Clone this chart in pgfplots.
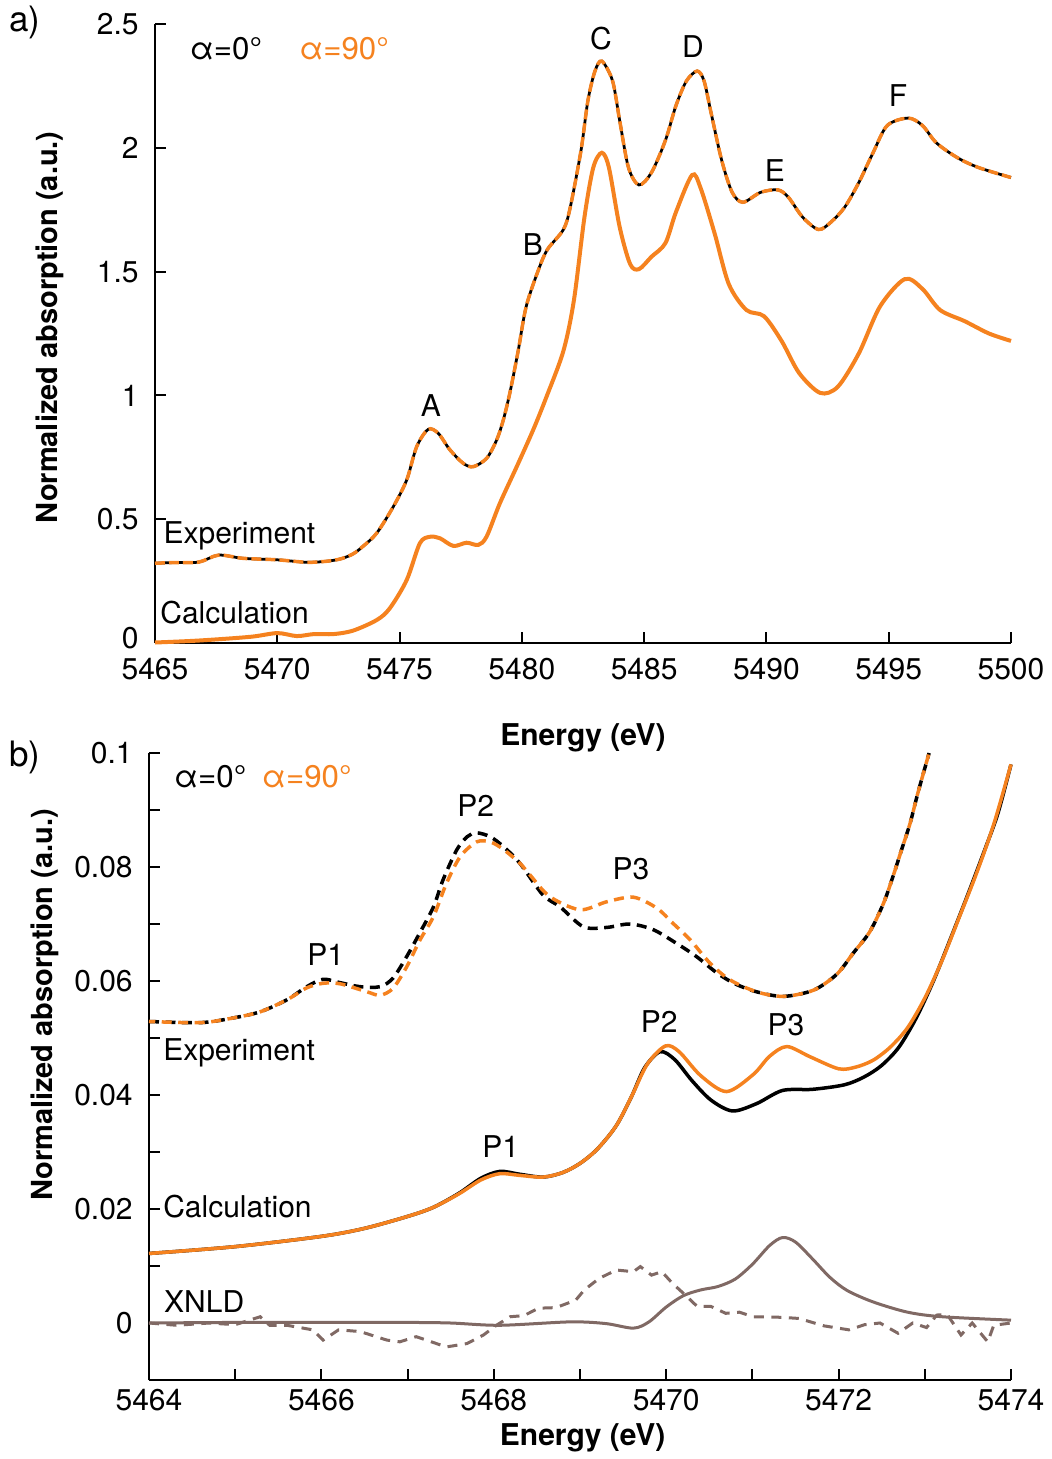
\documentclass[border=0pt]{standalone}
\usepackage{pgfplots}
\pgfplotsset{compat=1.18}
\usepackage{fontspec}
\setmainfont{TeX Gyre Heros}
\definecolor{org}{RGB}{245,130,31}
\definecolor{xnld}{RGB}{128,105,100}

\pgfplotsset{
  panel/.style={
    scale only axis, clip=false,
    axis x line=bottom, axis y line=left,
    axis line style={-, line width=0.8pt},
    tick style={black, line width=0.8pt},
    major tick length=4.5pt, tick align=inside,
    tick label style={font=\fontsize{12}{14}\selectfont},
    yticklabel style={xshift=-3pt},
    every axis plot/.append style={no markers},
  },
}

\begin{document}
\begin{tikzpicture}[font=\fontsize{12}{14}\selectfont]
\useasboundingbox (-62pt,-326.4pt) rectangle (358.4pt,257.2pt);

% a) K-edge overview
\begin{axis}[panel, at={(0,0)}, anchor=south west,
  width=342.4pt, height=247.6pt,
  xmin=5465, xmax=5500, ymin=0, ymax=2.5,
  xticklabel style={yshift=-2.5pt},
  xtick={5465,5470,5475,5480,5485,5490,5495,5500},
  xticklabels={5465,5470,5475,5480,5485,5490,5495,5500},
  ytick={0,0.5,1,1.5,2,2.5},
  yticklabels={\raisebox{4pt}{0},0.5,1,1.5,2,2.5}]

% experiment, alpha=0 (black) under alpha=90 (orange dashed)
\addplot[black, line width=1.1pt, smooth] coordinates {
(5465,0.322)(5465.8,0.325)(5466.8,0.327)(5467.6,0.355)(5468.6,0.342)(5470,0.336)
(5471.2,0.326)(5472,0.33)(5472.6,0.34)(5473.1,0.36)(5473.5,0.39)(5474.06,0.443)
(5474.74,0.55)(5475.29,0.658)(5475.7,0.793)(5476.17,0.863)(5476.58,0.847)(5477.06,0.78)
(5477.6,0.726)(5478.01,0.712)(5478.56,0.746)(5478.97,0.82)(5479.24,0.90)(5479.51,1.01)
(5479.85,1.18)(5480.18,1.36)(5480.69,1.51)(5481.05,1.59)(5481.7,1.67)(5481.98,1.76)
(5482.42,1.99)(5482.70,2.19)(5482.99,2.31)(5483.27,2.35)(5483.71,2.27)(5484.0,2.11)
(5484.36,1.92)(5484.79,1.85)(5485.3,1.90)(5485.87,2.03)(5486.3,2.17)(5486.73,2.27)
(5487.17,2.31)(5487.45,2.27)(5487.74,2.14)(5488.17,1.95)(5488.6,1.82)(5489.04,1.78)
(5489.76,1.82)(5490.47,1.83)(5490.9,1.80)(5491.48,1.72)(5492.13,1.67)(5492.64,1.70)
(5493.2,1.76)(5493.78,1.86)(5494.36,1.98)(5494.94,2.09)(5495.8,2.12)(5496.38,2.09)
(5496.95,2.02)(5497.81,1.96)(5498.68,1.92)(5500,1.88)};
\addplot[org, line width=1.4pt, smooth, dash pattern=on 4pt off 1.6pt] coordinates {
(5465,0.322)(5465.8,0.325)(5466.8,0.327)(5467.6,0.355)(5468.6,0.342)(5470,0.336)
(5471.2,0.326)(5472,0.33)(5472.6,0.34)(5473.1,0.36)(5473.5,0.39)(5474.06,0.443)
(5474.74,0.55)(5475.29,0.658)(5475.7,0.793)(5476.17,0.863)(5476.58,0.847)(5477.06,0.78)
(5477.6,0.726)(5478.01,0.712)(5478.56,0.746)(5478.97,0.82)(5479.24,0.90)(5479.51,1.01)
(5479.85,1.18)(5480.18,1.36)(5480.69,1.51)(5481.05,1.59)(5481.7,1.67)(5481.98,1.76)
(5482.42,1.99)(5482.70,2.19)(5482.99,2.31)(5483.27,2.35)(5483.71,2.27)(5484.0,2.11)
(5484.36,1.92)(5484.79,1.85)(5485.3,1.90)(5485.87,2.03)(5486.3,2.17)(5486.73,2.27)
(5487.17,2.31)(5487.45,2.27)(5487.74,2.14)(5488.17,1.95)(5488.6,1.82)(5489.04,1.78)
(5489.76,1.82)(5490.47,1.83)(5490.9,1.80)(5491.48,1.72)(5492.13,1.67)(5492.64,1.70)
(5493.2,1.76)(5493.78,1.86)(5494.36,1.98)(5494.94,2.09)(5495.8,2.12)(5496.38,2.09)
(5496.95,2.02)(5497.81,1.96)(5498.68,1.92)(5500,1.88)};

% calculation (both polarisations coincide)
\addplot[org, line width=1.6pt, smooth] coordinates {
(5465,0.002)(5466.8,0.01)(5468.9,0.025)(5470,0.04)(5470.8,0.028)(5471.5,0.036)
(5472.3,0.036)(5473.1,0.05)(5474.07,0.093)(5474.6,0.14)(5475.29,0.254)(5475.83,0.403)
(5476.24,0.429)(5476.65,0.423)(5477.2,0.392)(5477.74,0.405)(5478.22,0.396)(5478.56,0.43)
(5479.1,0.564)(5479.79,0.712)(5480.46,0.86)(5481.01,0.995)(5481.7,1.18)(5482.13,1.385)
(5482.56,1.72)(5482.92,1.92)(5483.27,1.98)(5483.56,1.92)(5484.0,1.68)(5484.43,1.53)
(5484.79,1.51)(5485.3,1.56)(5485.87,1.615)(5486.3,1.74)(5486.96,1.89)(5487.3,1.84)
(5487.88,1.655)(5488.46,1.45)(5489.18,1.345)(5489.9,1.32)(5490.62,1.22)(5491.34,1.09)
(5492.2,1.01)(5492.92,1.035)(5493.78,1.17)(5494.65,1.36)(5495.66,1.47)(5496.38,1.43)
(5497.1,1.345)(5498.1,1.30)(5499.1,1.25)(5500,1.22)};

\node[anchor=west, inner sep=0pt] at (axis cs:5465.33,0.432) {Experiment};
\node[anchor=west, inner sep=0pt] at (axis cs:5465.2,0.121) {Calculation};
\node at (axis cs:5476.28,0.957) {A};
\node at (axis cs:5480.45,1.61) {B};
\node at (axis cs:5483.23,2.44) {C};
\node at (axis cs:5487.0,2.41) {D};
\node at (axis cs:5490.35,1.91) {E};
\node at (axis cs:5495.38,2.21) {F};
\node[font=\fontsize{12.5}{14}\selectfont] at (axis cs:5467.9,2.40) {α=0°};
\node[org, font=\fontsize{12.5}{14}\selectfont] at (axis cs:5472.73,2.40) {α=90°};

\node[rotate=90, font=\bfseries\fontsize{11.6}{13}\selectfont] at ([xshift=-42pt]axis description cs:0,0.51) {Normalized absorption (a.u.)};
\node[font=\bfseries\fontsize{12}{14}\selectfont] at ([yshift=-38pt]axis description cs:0.5,0) {Energy (eV)};
\node[font=\fontsize{14}{16}\selectfont] at ([xshift=-52pt,yshift=0.8pt]axis description cs:0,1) {a)};
\end{axis}

% b) pre-edge region
\begin{axis}[panel, at={(-2.4pt,-294.8pt)}, anchor=south west,
  width=344.8pt, height=250.8pt,
  xmin=5464, xmax=5474, ymin=-0.01, ymax=0.1,
  xtick={5464,5465,5466,5467,5468,5469,5470,5471,5472,5473,5474},
  xticklabels={5464,,5466,,5468,,5470,,5472,,5474},
  ytick={0,0.01,0.02,0.03,0.04,0.05,0.06,0.07,0.08,0.09,0.1},
  yticklabels={0,,0.02,,0.04,,0.06,,0.08,,0.1}]

% experiment
\addplot[black, line width=1.4pt, smooth, dash pattern=on 4pt off 2.6pt] coordinates {
(5464,0.0529)(5464.6,0.0527)(5464.97,0.0535)(5465.29,0.0546)(5465.6,0.0567)(5465.83,0.059)
(5466.02,0.0603)(5466.22,0.0597)(5466.45,0.059)(5466.68,0.059)(5466.83,0.0605)(5466.99,0.0643)
(5467.14,0.0684)(5467.3,0.073)(5467.41,0.0777)(5467.57,0.083)(5467.69,0.0853)(5467.8,0.086)
(5467.96,0.0853)(5468.11,0.0836)(5468.3,0.0807)(5468.57,0.0751)(5468.77,0.073)(5469.04,0.0695)
(5469.31,0.0694)(5469.58,0.07)(5469.85,0.069)(5470.12,0.0666)(5470.35,0.0643)(5470.59,0.0614)
(5470.8,0.0595)(5471.05,0.0581)(5471.36,0.0573)(5471.71,0.0584)(5471.98,0.0612)(5472.17,0.0649)
(5472.36,0.0686)(5472.52,0.0736)(5472.63,0.0783)(5472.73,0.083)(5472.83,0.0877)(5472.92,0.093)
(5473.05,0.1)};
\addplot[org, line width=1.4pt, smooth, dash pattern=on 4pt off 2.6pt, dash phase=1.5pt] coordinates {
(5464,0.0529)(5464.6,0.0527)(5464.97,0.0535)(5465.29,0.0546)(5465.6,0.0567)(5465.83,0.0588)
(5466.02,0.0596)(5466.22,0.0595)(5466.53,0.0581)(5466.68,0.0575)(5466.83,0.0587)(5466.99,0.0625)
(5467.14,0.0671)(5467.3,0.0713)(5467.45,0.0771)(5467.61,0.0818)(5467.8,0.0844)(5467.96,0.0844)
(5468.11,0.0831)(5468.3,0.0807)(5468.42,0.0786)(5468.65,0.0748)(5469.0,0.0725)(5469.31,0.0739)
(5469.62,0.0747)(5469.89,0.0728)(5470.08,0.0701)(5470.28,0.0672)(5470.51,0.0631)(5470.74,0.0602)
(5471.05,0.0581)(5471.36,0.0573)(5471.71,0.0584)(5471.98,0.0612)(5472.17,0.0649)(5472.36,0.0686)
(5472.52,0.0736)(5472.63,0.0783)(5472.73,0.083)(5472.83,0.0877)(5472.92,0.093)(5473.05,0.1)};

% calculation
\addplot[black, line width=1.4pt, smooth] coordinates {
(5464,0.0122)(5465,0.0134)(5466,0.0152)(5466.5,0.0166)(5467,0.0187)(5467.3,0.0203)
(5467.6,0.0228)(5467.85,0.0254)(5468.07,0.0266)(5468.3,0.0261)(5468.57,0.0256)(5468.8,0.0264)
(5469.0,0.028)(5469.2,0.0305)(5469.42,0.0346)(5469.6,0.0398)(5469.75,0.0448)(5469.93,0.0476)
(5470.1,0.0462)(5470.3,0.0425)(5470.52,0.0391)(5470.77,0.0372)(5471.05,0.0385)(5471.35,0.0408)
(5471.7,0.041)(5472.07,0.0418)(5472.3,0.0432)(5472.5,0.0452)(5472.7,0.0484)(5472.9,0.0535)
(5473.1,0.0600)(5473.3,0.0675)(5473.5,0.0752)(5473.7,0.0832)(5473.85,0.0895)(5474,0.098)};
\addplot[org, line width=1.4pt, smooth] coordinates {
(5464,0.0122)(5465,0.0134)(5466,0.0152)(5466.5,0.0166)(5467,0.0187)(5467.3,0.0203)
(5467.6,0.0227)(5467.85,0.0251)(5468.07,0.0262)(5468.3,0.0259)(5468.57,0.0256)(5468.8,0.0264)
(5469.0,0.028)(5469.2,0.0305)(5469.42,0.0346)(5469.6,0.0398)(5469.78,0.0454)(5469.99,0.0486)
(5470.15,0.0476)(5470.4,0.0434)(5470.7,0.0406)(5471.01,0.0436)(5471.2,0.0468)(5471.4,0.0485)
(5471.67,0.0467)(5472.0,0.0446)(5472.2,0.0449)(5472.4,0.0461)(5472.6,0.0484)(5472.8,0.0518)
(5473.0,0.0570)(5473.2,0.0636)(5473.4,0.0712)(5473.6,0.0789)(5473.8,0.0875)(5474,0.098)};

% XNLD
\addplot[xnld, line width=1.2pt, smooth] coordinates {
(5464,0)(5465,0.0001)(5466,0.0001)(5467,0.0001)(5467.5,0)(5468.07,-0.0004)(5468.89,0.0002)
(5469.3,-0.0001)(5469.62,-0.0009)(5469.8,0.0002)(5470.0,0.0028)(5470.2,0.0048)(5470.4,0.0058)
(5470.6,0.0064)(5470.8,0.0077)(5471.0,0.0103)(5471.2,0.0136)(5471.35,0.015)(5471.5,0.0142)
(5471.7,0.0112)(5471.9,0.008)(5472.1,0.0057)(5472.4,0.0037)(5472.8,0.0019)(5473.2,0.0011)
(5474,0.0005)};
\addplot[xnld, line width=1.2pt, dash pattern=on 4pt off 3pt] coordinates {
(5464,0)(5464.32,-0.0004)(5464.7,0)(5465.0,-0.0003)(5465.29,0.0011)(5465.4,-0.0004)(5465.6,-0.0004)
(5465.9,-0.0012)(5466.02,-0.003)(5466.2,-0.0012)(5466.45,-0.0015)(5466.76,-0.003)(5466.91,-0.0033)
(5467.1,-0.0024)(5467.45,-0.0042)(5467.69,-0.0036)(5467.88,-0.0021)(5468.03,-0.0004)(5468.19,0.0011)
(5468.35,0.0013)(5468.52,0.0026)(5468.72,0.0027)(5468.95,0.004)(5469.05,0.0058)(5469.22,0.0078)
(5469.42,0.0093)(5469.62,0.009)(5469.7,0.0099)(5469.83,0.0084)(5469.95,0.009)(5470.07,0.007)
(5470.2,0.0052)(5470.36,0.0029)(5470.52,0.0029)(5470.69,0.0017)(5470.85,0.0019)(5471.01,0.0011)
(5471.34,0.001)(5471.54,0.0008)(5471.83,-0.0005)(5472.12,-0.0012)(5472.3,-0.0003)(5472.48,0)
(5472.69,-0.0018)(5472.86,0)(5473.02,-0.0008)(5473.14,0.0014)(5473.26,0.0015)(5473.42,-0.0021)
(5473.55,0)(5473.73,-0.0033)(5473.8,-0.0004)(5474,0)};

\node[font=\fontsize{12.5}{14}\selectfont] at (axis cs:5464.71,0.0958) {α=0°};
\node[org, font=\fontsize{12.5}{14}\selectfont] at (axis cs:5465.83,0.0958) {α=90°};
\node at (axis cs:5467.79,0.0907) {P2};
\node at (axis cs:5469.59,0.0796) {P3};
\node at (axis cs:5466.05,0.0646) {P1};
\node at (axis cs:5469.92,0.0528) {P2};
\node at (axis cs:5471.39,0.0523) {P3};
\node at (axis cs:5468.08,0.0309) {P1};
\node[anchor=west, inner sep=0pt] at (axis cs:5464.16,0.0474) {Experiment};
\node[anchor=west, inner sep=0pt] at (axis cs:5464.16,0.0204) {Calculation};
\node[anchor=west, inner sep=0pt] at (axis cs:5464.17,0.0037) {XNLD};

\node[rotate=90, font=\bfseries\fontsize{11.6}{13}\selectfont] at ([xshift=-41.6pt]axis description cs:0,0.598) {Normalized absorption (a.u.)};
\node[font=\bfseries\fontsize{12}{14}\selectfont] at ([yshift=-23.2pt]axis description cs:0.503,0) {Energy (eV)};
\node[font=\fontsize{14}{16}\selectfont] at ([xshift=-49.6pt,yshift=-1.6pt]axis description cs:0,1) {b)};
\end{axis}
\end{tikzpicture}
\end{document}
